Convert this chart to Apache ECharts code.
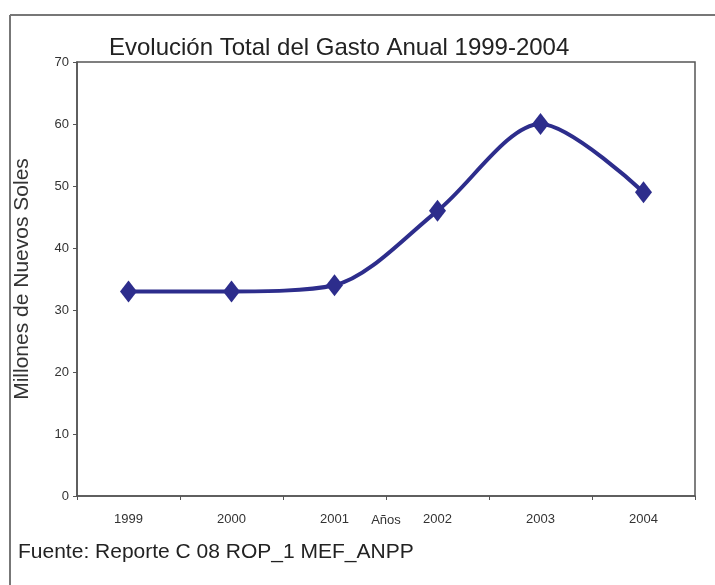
<!DOCTYPE html>
<html>
<head>
<meta charset="utf-8">
<script src="https://cdn.jsdelivr.net/npm/echarts@6/dist/echarts.min.js"></script>
<style>
  html, body { margin: 0; padding: 0; background: #ffffff; }
  #chart { width: 715px; height: 585px; }
</style>
</head>
<body>
<div id="chart"></div>
<script>
// Annual spending, millions of Nuevos Soles
const years = ['1999', '2000', '2001', '2002', '2003', '2004'];
const gasto = [33, 33, 34, 46, 60, 49];
const yTicks = { min: 0, max: 70, interval: 10 };

const FONT = '"Liberation Sans", Arial, sans-serif';
const chart = echarts.init(document.getElementById('chart'));

chart.setOption({
  backgroundColor: '#ffffff',
  animation: false,
  title: {
    text: 'Evolución Total del Gasto Anual 1999-2004',
    left: 104,
    top: 31,
    textStyle: { fontFamily: FONT, fontSize: 24, fontWeight: 'normal', color: '#222222' }
  },
  grid: {
    left: 77, right: 20, top: 62, bottom: 89,
    show: true, borderColor: '#555555', borderWidth: 1.5, backgroundColor: 'transparent'
  },
  xAxis: {
    type: 'category',
    data: years,
    boundaryGap: true,
    axisLine: { lineStyle: { color: '#555555', width: 1.5 } },
    axisTick: { show: true, interval: 0, length: 4, lineStyle: { color: '#555555' } },
    axisLabel: { fontFamily: FONT, fontSize: 13, color: '#333333', margin: 17 },
    splitLine: { show: false }
  },
  yAxis: {
    type: 'value',
    min: yTicks.min,
    max: yTicks.max,
    interval: yTicks.interval,
    name: 'Millones de Nuevos Soles',
    nameLocation: 'middle',
    nameRotate: 90,
    nameGap: 44,
    nameTextStyle: { fontFamily: FONT, fontSize: 21, color: '#333333' },
    axisLine: { show: true, lineStyle: { color: '#555555', width: 1.5 } },
    axisTick: { show: true, length: 4, lineStyle: { color: '#555555' } },
    axisLabel: { fontFamily: FONT, fontSize: 13, color: '#333333', margin: 8 },
    splitLine: { show: false }
  },
  series: [{
    type: 'line',
    data: gasto,
    smooth: 0.3,
    symbol: 'diamond',
    symbolSize: [17, 22],
    lineStyle: { color: '#2d2d8c', width: 4 },
    itemStyle: { color: '#2d2d8c' }
  }],
  graphic: [
    // outer frame (top and left edges)
    { type: 'line', shape: { x1: 10, y1: 15, x2: 715, y2: 15 }, style: { stroke: '#777777', lineWidth: 2 } },
    { type: 'line', shape: { x1: 10, y1: 15, x2: 10, y2: 585 }, style: { stroke: '#777777', lineWidth: 2 } },
    // x-axis title, sitting on the tick-label row midway along the axis
    {
      type: 'text', x: 386, y: 520,
      style: { text: 'Años', font: '13px ' + FONT, fill: '#333333', align: 'center', verticalAlign: 'middle' }
    },
    {
      type: 'text', x: 18, y: 552,
      style: { text: 'Fuente: Reporte C 08 ROP_1 MEF_ANPP', font: '21px ' + FONT, fill: '#222222', verticalAlign: 'middle' }
    }
  ]
});
</script>
</body>
</html>
